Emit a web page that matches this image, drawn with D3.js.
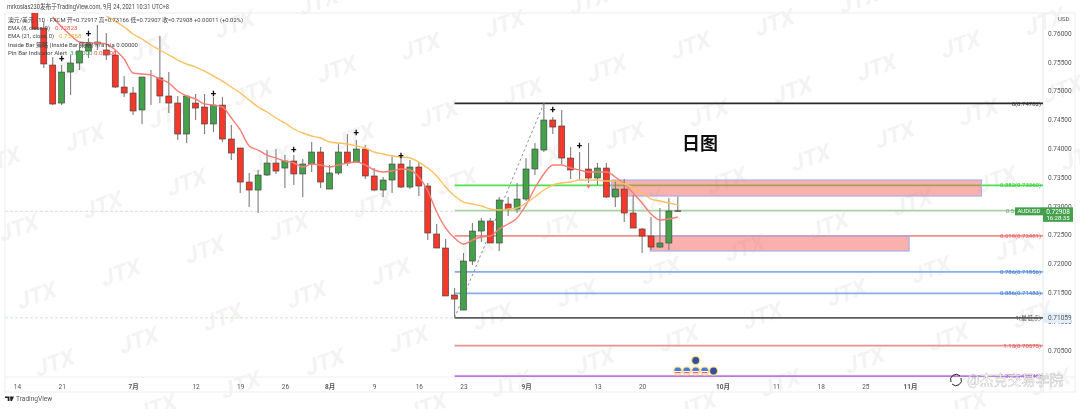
<!DOCTYPE html>
<html>
<head>
<meta charset="utf-8">
<script src="https://cdn.jsdelivr.net/npm/d3@7"></script>
<style>
  html, body { margin: 0; padding: 0; background: #fff; }
  svg { display: block; }
  text { font-family: Roboto, "Noto Sans CJK SC", sans-serif; }
</style>
</head>
<body>
<svg id="chart" width="1080" height="409"></svg>
<script>
// candles start at bar 2 (bar 0 is 14 Jun)
const firstBar = 2;
const opens = [.76439,.76092,.75449,.74789,.75327,.75484,.75693,.75814,.75710,.75623,.75067,.74963,.74668,.75241,.75224,.74911,.74789,.74251,.74789,.74720,.74425,.74754,.74164,.74008,.73417,.73278,.73539,.73747,.73660,.73782,.73557,.73730,.73938,.73295,.73574,.73938,.73764,.73990,.73522,.73278,.73452,.73730,.73330,.73678,.73348,.72514,.72271,.71455,.71194,.72045,.72566,.72740,.72358,.73035,.72948,.73122,.73643,.73973,.74494,.74390,.73834,.73643,.73643,.73487,.73660,.73157,.73295,.72879,.72601,.72479,.72288,.72358,.72917];
const highs = [.76491,.76196,.75588,.75449,.75623,.75848,.75918,.76144,.76005,.75710,.75258,.75067,.75241,.75362,.75953,.75327,.74911,.74911,.74945,.74945,.74893,.74893,.74407,.74008,.73574,.73626,.73973,.73990,.73886,.73886,.73817,.74112,.74025,.73713,.74077,.74251,.74147,.74060,.73660,.73504,.73886,.73886,.73799,.73764,.73400,.72688,.72427,.71577,.72184,.72705,.72792,.72792,.73157,.73157,.73400,.73834,.74095,.74782,.74546,.74668,.74025,.73938,.74095,.73747,.73747,.73452,.73469,.73192,.72618,.72810,.72966,.73140,.73166];
const lows = [.76057,.75397,.74754,.74754,.74928,.75362,.75571,.75710,.75536,.75050,.74893,.74581,.74425,.74754,.74789,.74616,.74147,.74095,.74494,.74251,.74286,.74112,.73799,.73226,.72983,.72879,.73522,.73557,.73313,.73365,.73157,.73591,.73313,.73295,.73539,.73695,.73764,.73469,.73261,.73157,.73226,.73313,.73295,.73174,.72410,.72271,.71438,.71059,.71194,.71976,.72375,.72358,.72219,.72827,.72879,.73087,.73539,.73938,.74251,.73730,.73469,.73452,.73400,.73365,.73140,.72983,.72723,.72618,.72184,.72236,.72271,.72236,.72907];
const closes = [.76075,.75467,.74772,.75327,.75484,.75693,.75814,.75848,.75623,.75067,.74963,.74651,.75241,.75241,.74911,.74789,.74251,.74911,.74702,.74425,.74754,.74164,.73921,.73417,.73278,.73539,.73747,.73608,.73782,.73557,.73730,.73938,.73417,.73574,.73938,.73747,.73990,.73522,.73278,.73452,.73730,.73330,.73678,.73348,.72532,.72271,.71438,.71385,.72045,.72566,.72740,.72358,.73105,.72948,.73122,.73643,.73990,.74494,.74372,.73834,.73626,.73643,.73487,.73660,.73157,.73295,.72879,.72618,.72479,.72288,.72358,.72914,.72908];

const ema8Start = 4;
const ema8 = [.76283,.76109,.75970,.75848,.75831,.75831,.75814,.75710,.75553,.75310,.75293,.75275,.75206,.75137,.74998,.74911,.74859,.74772,.74754,.74720,.74529,.74321,.74043,.73973,.73886,.73834,.73782,.73747,.73678,.73730,.73713,.73678,.73713,.73747,.73764,.73713,.73626,.73591,.73608,.73643,.73626,.73504,.73261,.72896,.72618,.72445,.72340,.72410,.72462,.72479,.72601,.72688,.72792,.73018,.73313,.73557,.73713,.73713,.73660,.73626,.73591,.73591,.73591,.73504,.73383,.73226,.73052,.72861,.72757,.72775,.72810];
const ema21Start = 10;
const ema21 = [.76300,.76213,.76109,.75988,.75901,.75797,.75710,.75623,.75536,.75467,.75414,.75345,.75258,.75171,.75067,.74963,.74841,.74720,.74633,.74529,.74442,.74338,.74269,.74216,.74182,.74112,.74095,.74077,.74043,.74008,.73938,.73904,.73869,.73852,.73834,.73764,.73660,.73522,.73330,.73174,.73070,.73035,.73000,.72948,.72931,.72948,.72966,.73052,.73157,.73278,.73365,.73400,.73417,.73452,.73452,.73452,.73434,.73434,.73383,.73313,.73226,.73122,.73087,.73052,.73018];

const priceTicks = [.76,.755,.75,.745,.74,.735,.73,.725,.72,.715,.71,.705];
const timeTicks = [0,5,13,20,25,30,35,40,45,50,57,65,70,79,85,90,95,100];
const timeLabels = ["14","21","7月","12","19","26","8月","9","16","23","9月","13","20","10月","11","18","25","11月"];
const monthLabels = ["7月","8月","9月","10月","11月"];

// fib retracement from the low to the high
const fibFromBar = 49, fibToBar = 59;
const fibPrices = [.74782,.73360,.72921,.72481,.71856,.71483,.71059,.70575,.70046];
const fibColors = ["#2b2b2b","#4fe04f","#a9d2a2","#f2908b","#86aeec","#86aeec","#5c5c5c","#ec9090","#bd78dc"];
const fibNames = ["0(0.74782)","0.382(0.73360)","0.5","0.618(0.72481)","0.786(0.71856)","0.886(0.71483)","1(最低点)","1.13(0.70575)","1.272(0.70046)"];
const fibTextColors = ["#333","#35c935","#6fa568","#ee5a55","#3f78d8","#3f78d8","#555","#e2504c","#b45bd8"];
const fibEndBar = 115;

const zoneStarts = [66.6, 70.9];
const zoneEnds = [108, 99.9];
const zoneTops = [.73452, .72479];
const zoneBottoms = [.73174, .72219];

const crossBars = [5,8,22,31,38,43,60,63];
const crossPrices = [.75571,.76005,.74963,.73990,.74269,.73886,.74668,.74060];
const eventBars = [74,75,76,77,78];

const legendLines = [
  "澳元/美元 · 1D · FXCM  开=0.72917  高=0.73166  低=0.72907  收=0.72908  +0.00011 (+0.02%)",
  "EMA (8, close, 0)",
  "EMA (21, close, 0)",
  "Inside Bar 策略 (Inside Bar 策略)  n/a  n/a  0.00000",
  "Pin Bar Indicator Alert"
];
const legendWidths = [235, 42, 46, 130, 59];

const svg = d3.select("#chart");

svg.append("defs").append("filter").attr("id", "soft")
  .append("feGaussianBlur").attr("stdDeviation", 0.45);
svg.select("defs").append("clipPath").attr("id", "plot")
  .append("rect").attr("x", 5).attr("y", 13).attr("width", 1038).attr("height", 364);

const root = svg.append("g").attr("filter", "url(#soft)");

const x = d3.scaleLinear().domain([0, 100]).range([17, 910]);
const y = d3.scaleLinear().domain([.76, .705]).range([33.3, 350]);

// frame
root.append("rect").attr("x", 5).attr("y", 13).attr("width", 1070).attr("height", 379)
  .attr("fill", "#fff").attr("stroke", "#eceef1");
root.append("line").attr("x1", 5).attr("x2", 1075).attr("y1", 377).attr("y2", 377).attr("stroke", "#eceef1");
root.append("line").attr("x1", 1043).attr("x2", 1043).attr("y1", 13).attr("y2", 392).attr("stroke", "#e4e6ea");

// JTX watermark, repeated on a slanted grid
const marks = root.append("g");
for (let row = -6; row < 5; row++) {
  for (let col = -4; col < 13; col++) {
    const mx = 223 + col * 84 + row * 18;
    const my = 317 - col * 22.8 + row * 67.5;
    if (mx < -10 || mx > 1090 || my < -5 || my > 415) continue;
    marks.append("text").attr("transform", `translate(${mx},${my}) rotate(-20) skewX(-14)`)
      .attr("text-anchor", "middle").attr("dy", "0.35em")
      .attr("font-family", "Liberation Sans").attr("font-weight", 700).attr("font-size", 22)
      .attr("fill", "#f3f3f3").text("JTX");
  }
}

const plot = root.append("g").attr("clip-path", "url(#plot)");

// last price and low dotted lines
[closes[closes.length - 1], fibPrices[6]].forEach(p => {
  plot.append("line").attr("x1", 5).attr("x2", x(fibFromBar))
    .attr("y1", y(p)).attr("y2", y(p))
    .attr("stroke", "#cfe8cf").attr("stroke-dasharray", "3,2");
});

// fib levels
plot.selectAll("line.fib").data(fibPrices).join("line").attr("class", "fib")
  .attr("x1", x(fibFromBar)).attr("x2", x(fibEndBar))
  .attr("y1", d => y(d)).attr("y2", d => y(d))
  .attr("stroke", (d, i) => fibColors[i]).attr("stroke-width", 1.7);

// price zones, see-through so the fib line shows olive inside
plot.selectAll("rect.zone").data(zoneStarts).join("rect").attr("class", "zone")
  .attr("x", d => x(d))
  .attr("width", (d, i) => x(zoneEnds[i]) - x(d))
  .attr("y", (d, i) => y(zoneTops[i]))
  .attr("height", (d, i) => y(zoneBottoms[i]) - y(zoneTops[i]))
  .attr("fill", "#f5635c").attr("fill-opacity", 0.5)
  .attr("stroke", "#aab0ea").attr("stroke-width", 1.2);

root.selectAll("text.fibl").data(fibNames).join("text").attr("class", "fibl")
  .attr("x", (d, i) => i === 2 ? 1014 : 1041).attr("y", (d, i) => y(fibPrices[i])).attr("dy", "0.35em")
  .attr("text-anchor", "end").attr("font-size", 6)
  .attr("fill", (d, i) => fibTextColors[i]).text(d => d);

// trend line of the fib tool
plot.append("line")
  .attr("x1", x(fibFromBar)).attr("y1", y(fibPrices[6]))
  .attr("x2", x(fibToBar)).attr("y2", y(fibPrices[0]))
  .attr("stroke", "#8f8f8f").attr("stroke-dasharray", "2.5,2.5");

// candles
const bars = opens.map((o, i) => ({ bar: firstBar + i, o: o, h: highs[i], l: lows[i], c: closes[i] }));
plot.selectAll("line.wick").data(bars).join("line").attr("class", "wick")
  .attr("x1", d => x(d.bar)).attr("x2", d => x(d.bar))
  .attr("y1", d => y(d.h)).attr("y2", d => y(d.l))
  .attr("stroke", "#7d7d7d").attr("stroke-width", 1.1);
plot.selectAll("rect.body").data(bars).join("rect").attr("class", "body")
  .attr("x", d => x(d.bar) - 3)
  .attr("width", 6)
  .attr("y", d => y(Math.max(d.o, d.c)))
  .attr("height", d => Math.abs(y(d.o) - y(d.c)))
  .attr("fill", d => d.c >= d.o ? "#45a04c" : "#f4382c")
  .attr("stroke", "#3c3c3c").attr("stroke-width", 0.6);

// EMAs
const lineFrom = start => d3.line().x((d, i) => x(start + i)).y(d => y(d)).curve(d3.curveMonotoneX);
plot.append("path").attr("d", lineFrom(ema8Start)(ema8))
  .attr("fill", "none").attr("stroke", "#f77d74").attr("stroke-width", 1.4);
plot.append("path").attr("d", lineFrom(ema21Start)(ema21))
  .attr("fill", "none").attr("stroke", "#fbc061").attr("stroke-width", 1.4);

// inside bar crosses and pin bar arrow
root.selectAll("text.cross").data(crossBars).join("text").attr("class", "cross")
  .attr("x", d => x(d)).attr("y", (d, i) => y(crossPrices[i])).attr("dy", "0.35em")
  .attr("text-anchor", "middle").attr("font-size", 10).attr("font-weight", 700)
  .attr("fill", "#111").text("+");
root.append("path")
  .attr("d", d3.symbol().type(d3.symbolTriangle).size(9)())
  .attr("transform", `translate(${x(64)},${y(.73348)}) rotate(180)`)
  .attr("fill", "#f2706a");

// economic event flags
const flagY = 371;
const flags = root.append("g");
eventBars.concat([76]).forEach((b, i) => {
  const cy = i === 5 ? flagY - 10.5 : flagY;
  const g = flags.append("g").attr("transform", `translate(${x(b)},${cy})`);
  g.append("circle").attr("r", 4.6).attr("fill", "#ffd97a");
  g.append("circle").attr("r", 3.4).attr("fill", i >= 4 ? "#34509f" : "#f6f8fc");
  if (i < 4) {
    g.append("path").attr("d", "M-3.4,0A3.4,3.4 0 0 1 3.4,0Z").attr("fill", "#4f7ad0");
    g.append("path").attr("d", "M-2.6,1.6L2.6,1.6").attr("stroke", "#f0556a").attr("stroke-width", 1.1);
  }
});

// axes
const xAxis = d3.axisBottom(x).tickValues(timeTicks).tickSize(0)
  .tickFormat((d, i) => timeLabels[i]);
const xg = root.append("g").attr("transform", "translate(0,381)").call(xAxis);
xg.select(".domain").remove();
xg.selectAll("text").attr("font-size", 6.5).attr("fill", "#555")
  .attr("font-family", "Roboto, Noto Sans CJK SC")
  .attr("font-weight", d => monthLabels.includes(timeLabels[timeTicks.indexOf(d)]) ? 700 : 400);

const yAxis = d3.axisRight(y).tickValues(priceTicks).tickSize(0)
  .tickPadding(5).tickFormat(d3.format(".5f"));
const yg = root.append("g").attr("transform", "translate(1043,0)").call(yAxis);
yg.select(".domain").remove();
yg.selectAll("text").attr("font-size", 6.5).attr("fill", "#555").attr("font-family", "Roboto");

root.append("text").attr("x", 1058).attr("y", 21).attr("font-size", 6).attr("fill", "#555").text("USD");

// price labels on the axis
const lastPrice = closes[closes.length - 1];
root.append("rect").attr("x", 1015).attr("y", y(lastPrice) - 4).attr("width", 28).attr("height", 8).attr("fill", "#45a04c");
root.append("text").attr("x", 1029).attr("y", y(lastPrice)).attr("dy", "0.35em").attr("text-anchor", "middle")
  .attr("font-size", 6).attr("fill", "#fff").text("AUDUSD");
root.append("rect").attr("x", 1043).attr("y", y(lastPrice) - 4).attr("width", 30).attr("height", 14.5).attr("fill", "#45a04c");
root.append("text").attr("x", 1058).attr("y", y(lastPrice)).attr("dy", "0.35em").attr("text-anchor", "middle")
  .attr("font-size", 6.5).attr("fill", "#fff").text("0.72908");
root.append("text").attr("x", 1058).attr("y", y(lastPrice) + 7).attr("dy", "0.35em").attr("text-anchor", "middle")
  .attr("font-size", 6).attr("fill", "#fff").text("16:28:35");
root.append("rect").attr("x", 1043).attr("y", y(fibPrices[6]) - 5).attr("width", 28).attr("height", 10).attr("fill", "#e3effc");
root.append("text").attr("x", 1048).attr("y", y(fibPrices[6])).attr("dy", "0.35em")
  .attr("font-size", 6.5).attr("font-family", "Roboto").attr("fill", "#555").text("0.71059");

// header and legend
root.append("text").attr("x", 7).attr("y", 9).attr("font-size", 6.4).attr("fill", "#444")
  .attr("textLength", 162).attr("lengthAdjust", "spacingAndGlyphs")
  .text("mrkoslas230发布于TradingView.com, 9月 24, 2021 10:31 UTC+8");
root.selectAll("text.legend").data(legendLines).join("text").attr("class", "legend")
  .attr("x", 8).attr("y", (d, i) => 22 + i * 8.2)
  .attr("textLength", (d, i) => legendWidths[i]).attr("lengthAdjust", "spacingAndGlyphs")
  .attr("font-size", 6.2).attr("fill", "#444").text(d => d);
root.append("text").attr("x", 55).attr("y", 30.2).attr("font-size", 6.2).attr("fill", "#f4564c").text("0.72823");
root.append("text").attr("x", 59).attr("y", 38.4).attr("font-size", 6.2).attr("fill", "#f5ae3a").text("0.73058");
root.append("text").attr("x", 70).attr("y", 54.8).attr("font-size", 6.2).attr("fill", "#45a04c").text("3.00000");
root.append("text").attr("x", 94).attr("y", 54.8).attr("font-size", 6.2).attr("fill", "#f4564c").text("0.00000");

// chart title
root.append("text").attr("x", 700).attr("y", 150).attr("text-anchor", "middle")
  .attr("font-family", "Noto Sans CJK SC")
  .attr("font-size", 18).attr("font-weight", 700).attr("fill", "#111").text("日图");

// footer
root.append("path").attr("d", "M5,396.5h4.5v4.5h-1.8v-3h-2.7zM10,396.5h4l-2,4.5h-1.5z").attr("fill", "#222");
root.append("text").attr("x", 16).attr("y", 401).attr("font-size", 6.6).attr("fill", "#555").text("TradingView");

// reposted-from mark
const stamp = root.append("g");
stamp.append("path").attr("d", "M951,382a5.5,5.5 0 0 1 9,-6M961,378a5.5,5.5 0 0 1 -9,6")
  .attr("fill", "none").attr("stroke", "#222").attr("stroke-width", 1);
stamp.append("text").attr("x", 967).attr("y", 385).attr("font-family", "Noto Sans CJK SC")
  .attr("font-size", 14).attr("fill", "#fff")
  .attr("stroke", "#b5b5b5").attr("stroke-width", 0.35).text("@杰克交易学院");
</script>
</body>
</html>
